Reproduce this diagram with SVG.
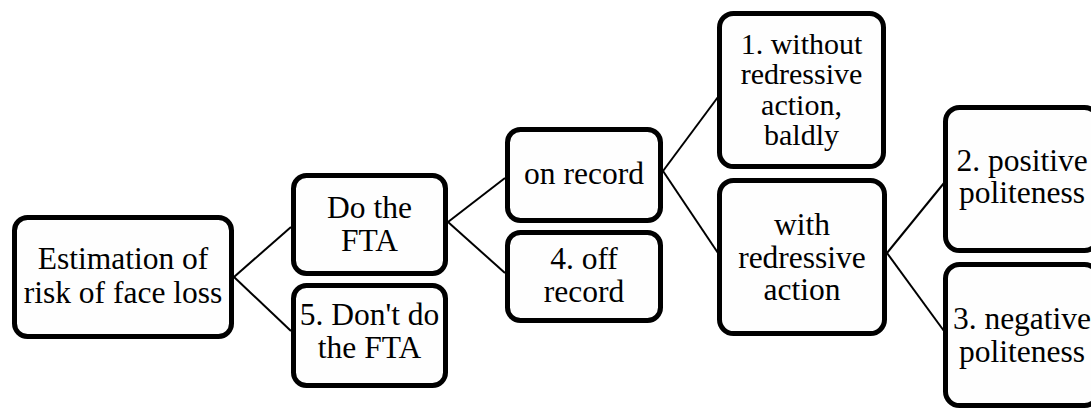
<svg xmlns="http://www.w3.org/2000/svg" width="1091" height="408" viewBox="0 0 1091 408">
  <style>
    .box { fill: #fefefe; stroke: #000; stroke-width: 5; }
    .lbl { font-family: 'Liberation Serif', 'Times New Roman', 'DejaVu Serif', serif; font-size: 31.5px; fill: #000; text-anchor: middle; }
    .tight { font-size: 30px; }
    .link { stroke: #000; stroke-width: 2; fill: none; }
  </style>
  <rect width="1091" height="408" fill="#fff"/>

  <g id="connectors">
    <line class="link" x1="234" y1="277" x2="291" y2="227"/>
    <line class="link" x1="234" y1="277" x2="291" y2="331"/>
    <line class="link" x1="448" y1="222" x2="505" y2="178"/>
    <line class="link" x1="448" y1="222" x2="505" y2="273"/>
    <line class="link" x1="663" y1="171" x2="718" y2="97"/>
    <line class="link" x1="663" y1="171" x2="718" y2="253"/>
    <line class="link" x1="887" y1="253" x2="944" y2="183"/>
    <line class="link" x1="887" y1="253" x2="944" y2="331"/>
  </g>

  <g id="estimation">
    <rect class="box" x="14.5" y="217.5" width="217" height="119" rx="13"/>
    <text class="lbl" x="123" y="269">Estimation of</text>
    <text class="lbl" x="123" y="303">risk of face loss</text>
  </g>

  <g id="do-fta">
    <rect class="box" x="293.5" y="175.5" width="152" height="98" rx="13"/>
    <text class="lbl" x="369.5" y="218">Do the</text>
    <text class="lbl" x="369.5" y="251">FTA</text>
  </g>

  <g id="dont-do-fta">
    <rect class="box" x="293.5" y="285.5" width="152" height="100" rx="13"/>
    <text class="lbl" x="369.5" y="325">5. Don't do</text>
    <text class="lbl" x="369.5" y="358">the FTA</text>
  </g>

  <g id="on-record">
    <rect class="box" x="507.5" y="129.5" width="153" height="91" rx="13"/>
    <text class="lbl" x="584" y="184">on record</text>
  </g>

  <g id="off-record">
    <rect class="box" x="507.5" y="232.5" width="153" height="88" rx="13"/>
    <text class="lbl" x="584" y="269">4. off</text>
    <text class="lbl" x="584" y="302">record</text>
  </g>

  <g id="baldly">
    <rect class="box" x="719.5" y="13.5" width="164" height="153" rx="14"/>
    <text class="lbl tight" x="801.5" y="53.5">1. without</text>
    <text class="lbl tight" x="801.5" y="84">redressive</text>
    <text class="lbl tight" x="801.5" y="114.5">action,</text>
    <text class="lbl tight" x="801.5" y="145">baldly</text>
  </g>

  <g id="redressive">
    <rect class="box" x="719.5" y="180.5" width="165" height="153" rx="14"/>
    <text class="lbl" x="802" y="235">with</text>
    <text class="lbl" x="802" y="268">redressive</text>
    <text class="lbl" x="802" y="300">action</text>
  </g>

  <g id="positive">
    <rect class="box" x="945.5" y="107.5" width="153" height="143" rx="14"/>
    <text class="lbl" x="1022" y="171">2. positive</text>
    <text class="lbl" x="1022" y="203">politeness</text>
  </g>

  <g id="negative">
    <rect class="box" x="945.5" y="264.5" width="153" height="141" rx="14"/>
    <text class="lbl" x="1022" y="329">3. negative</text>
    <text class="lbl" x="1022" y="362">politeness</text>
  </g>
</svg>
